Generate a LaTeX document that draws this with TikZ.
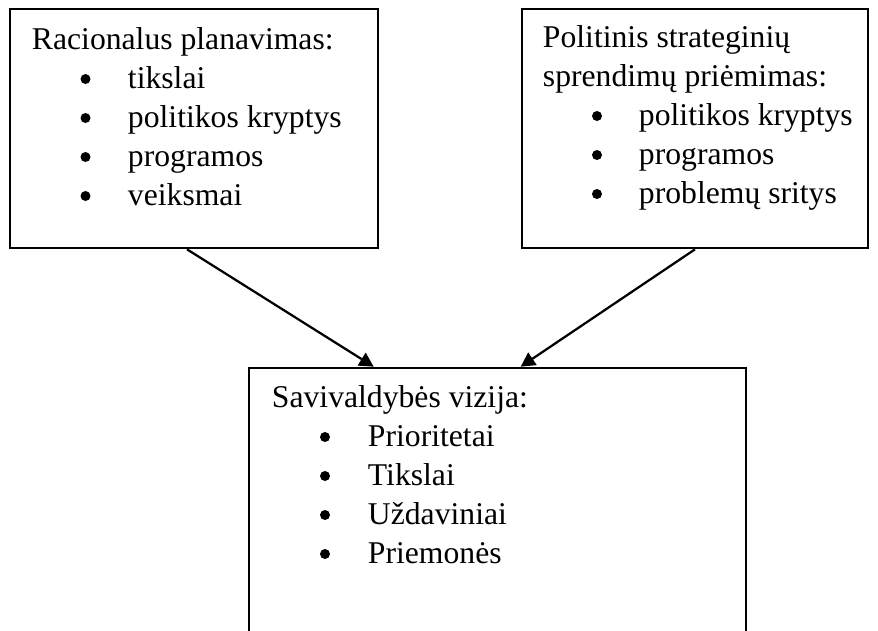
\documentclass[tikz,border=0pt]{standalone}
\usepackage{fontspec}
\setmainfont{Liberation Serif}
\usetikzlibrary{arrows.meta}
\newcommand{\px}{0.379pt}

\begin{document}
\begin{tikzpicture}
[x=\px,y=-\px,line width=0.75pt,%
  boxDecorate/.style={draw,rectangle,inner sep=0pt,line width=1pt},%
  lineDecorate/.style={-{Triangle[length=5.4pt,width=5.6pt]},line width=0.85pt},%
  textDecorate/.style={anchor=base west,inner sep=0pt},%
  bulletDecorate/.style={circle,fill,inner sep=0pt,minimum size=10*\px}]
\fontsize{12pt}{14.8pt}\selectfont
\useasboundingbox (0,0) rectangle (878,630);
\clip (0,0) rectangle (878,630);
%% boxes
\node[boxDecorate,minimum width=368*\px,minimum height=239*\px] (plan) at (194,128.5) {};
\node[boxDecorate,minimum width=346*\px,minimum height=239*\px] (polit) at (695,128.5) {};
\node[boxDecorate,minimum width=497*\px,minimum height=352*\px] (vizija) at (497.5,544) {};
%% titles
\node[textDecorate] (planTitle) at (31,49) {Racionalus planavimas:};
\node[textDecorate] (politTitleA) at (542,47) {Politinis strateginių};
\node[textDecorate] (politTitleB) at (542,86) {sprendimų priėmimas:};
\node[textDecorate] (vizijaTitle) at (271,407) {Savivaldybės vizija:};
%% bullet lists
\foreach \entry/\y [count=\i] in {
  tikslai/88, politikos kryptys/127, programos/166, veiksmai/205}
{
  \node[bulletDecorate] (planBullet\i) at (85.5,\y-9) {};
  \node[textDecorate] (planItem\i) at (127,\y) {\entry};
}
\foreach \entry/\y [count=\i] in {
  politikos kryptys/125, programos/164, problemų sritys/203}
{
  \node[bulletDecorate] (politBullet\i) at (597,\y-9) {};
  \node[textDecorate] (politItem\i) at (638,\y) {\entry};
}
\foreach \entry/\y [count=\i] in {
  Prioritetai/446, Tikslai/485, Uždaviniai/524, Priemonės/563}
{
  \node[bulletDecorate] (vizijaBullet\i) at (325,\y-9) {};
  \node[textDecorate] (vizijaItem\i) at (367,\y) {\entry};
}
%% connect boxes
\draw[lineDecorate] ([xshift=-7*\px]plan.south) -- ([xshift=126*\px]vizija.north west);
\draw[lineDecorate] (polit.south) -- ([xshift=273*\px]vizija.north west);
\end{tikzpicture}
\end{document}
